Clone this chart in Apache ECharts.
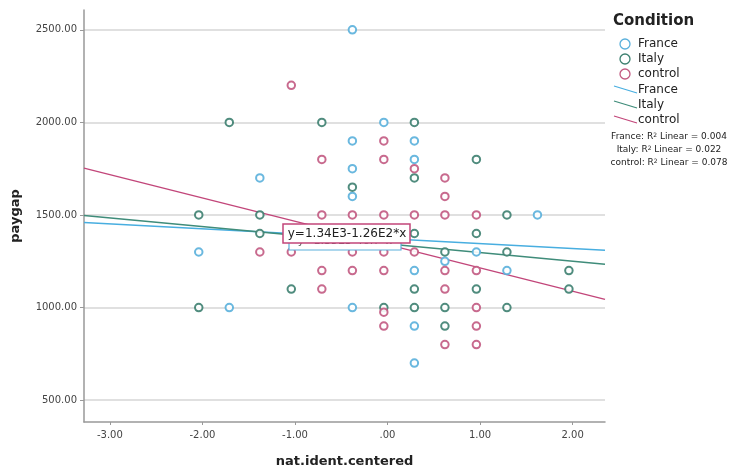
<!DOCTYPE html>
<html>
<head>
<meta charset="utf-8">
<script src="https://cdn.jsdelivr.net/npm/echarts@6/dist/echarts.min.js"></script>
<style>
  html, body { margin: 0; padding: 0; background: #fff; }
  #chart { width: 737px; height: 473px; }
</style>
</head>
<body>
<div id="chart"></div>
<script>
// ── Данные ──────────────────────────────────────────────────────────────────
var groups = ['France', 'Italy', 'control'];

var francePts = [
  [-2.04, 1300], [-1.71, 1000], [-1.38, 1700],
  [-0.38, 2500], [-0.38, 1900], [-0.38, 1750], [-0.38, 1600], [-0.38, 1000],
  [-0.04, 2000],
  [0.29, 1900], [0.29, 1800], [0.29, 1200], [0.29, 900], [0.29, 700],
  [0.62, 1250], [0.96, 1300], [1.29, 1200], [1.62, 1500]
];
var italyPts = [
  [-2.04, 1500], [-2.04, 1000], [-1.71, 2000],
  [-1.38, 1500], [-1.38, 1400], [-1.04, 1100], [-0.71, 2000],
  [-0.38, 1650], [-0.04, 1000],
  [0.29, 2000], [0.29, 1700], [0.29, 1400], [0.29, 1100], [0.29, 1000],
  [0.62, 1300], [0.62, 1000], [0.62, 900],
  [0.96, 1800], [0.96, 1400], [0.96, 1100],
  [1.29, 1500], [1.29, 1300], [1.29, 1000],
  [1.96, 1200], [1.96, 1100]
];
var controlPts = [
  [-1.38, 1300], [-1.04, 2200], [-1.04, 1300],
  [-0.71, 1800], [-0.71, 1500], [-0.71, 1200], [-0.71, 1100],
  [-0.38, 1500], [-0.38, 1300], [-0.38, 1200],
  [-0.04, 1900], [-0.04, 1800], [-0.04, 1500], [-0.04, 1300], [-0.04, 1200], [-0.04, 975], [-0.04, 900],
  [0.29, 1750], [0.29, 1500], [0.29, 1300],
  [0.62, 1700], [0.62, 1600], [0.62, 1500], [0.62, 1200], [0.62, 1100], [0.62, 800],
  [0.96, 1500], [0.96, 1200], [0.96, 1000], [0.96, 900], [0.96, 800]
];

// линейная регрессия по группам: y = a + b*x
var fitIntercept = [1372, 1344, 1340];
var fitSlope     = [-26.6, -46.7, -126];
var rSquared     = ['0.004', '0.022', '0.078'];

var xTicks = [-3, -2, -1, 0, 1, 2];
var yTicks = [500, 1000, 1500, 2000, 2500];
var xRange = [-3.28, 2.35];
var yRange = [382, 2607];

var pointColors = ['#5ab0dc', '#3d8070', '#c25a82'];
var lineColors  = ['#48aee0', '#3f8c7a', '#c2467a'];
var FONT = 'DejaVu Sans';

function fitLine(i) {
  return xRange.map(function (x) { return [x, fitIntercept[i] + fitSlope[i] * x]; });
}

var ptsByGroup = [francePts, italyPts, controlPts];

var series = [];
groups.forEach(function (g, i) {
  series.push({
    name: g,
    type: 'scatter',
    data: ptsByGroup[i],
    symbol: 'emptyCircle',
    symbolSize: 7.5,
    itemStyle: { color: pointColors[i], borderColor: pointColors[i], borderWidth: 1.5, opacity: 0.9 },
    z: 3
  });
});
groups.forEach(function (g, i) {
  series.push({
    name: g + ' fit',
    type: 'line',
    data: fitLine(i),
    symbol: 'none',
    lineStyle: { color: lineColors[i], width: 1.4 },
    z: 2,
    silent: true
  });
});

var chart = echarts.init(document.getElementById('chart'));
chart.setOption({
  animation: false,
  grid: { left: 84, right: 132, top: 10, bottom: 48 },
  xAxis: {
    type: 'value',
    min: xRange[0], max: xRange[1],
    name: 'nat.ident.centered',
    nameLocation: 'middle',
    nameGap: 33,
    nameTextStyle: { fontFamily: FONT, fontWeight: 'bold', fontSize: 13, color: '#222' },
    axisLine: { onZero: false, lineStyle: { color: '#999', width: 1.5 } },
    axisTick: { show: true, length: 3, customValues: xTicks, lineStyle: { color: '#999' } },
    axisLabel: {
      customValues: xTicks,
      fontFamily: FONT, fontSize: 10, color: '#444', margin: 8,
      formatter: function (v) { return v === 0 ? '.00' : v.toFixed(2); }
    },
    splitLine: { show: false }
  },
  yAxis: {
    type: 'value',
    min: yRange[0], max: yRange[1],
    name: 'paygap',
    nameLocation: 'middle',
    nameGap: 62,
    nameTextStyle: { fontFamily: FONT, fontWeight: 'bold', fontSize: 13, color: '#222' },
    axisLine: { show: true, onZero: false, lineStyle: { color: '#999', width: 1.5 } },
    axisTick: { show: true, length: 4, customValues: yTicks, lineStyle: { color: '#999' } },
    axisLabel: {
      customValues: yTicks,
      fontFamily: FONT, fontSize: 10, color: '#444', margin: 7,
      formatter: function (v) { return v.toFixed(2); }
    },
    splitLine: { show: true, lineStyle: { color: '#d6d6d6', width: 1.5 } }
  },
  series: series
});

// ── Подписи уравнения и легенда ─────────────────────────────────────────────
var labelAnchor = chart.convertToPixel({ gridIndex: 0 }, [-1.13, 1449]);
var lx = Math.round(labelAnchor[0]), ly = Math.round(labelAnchor[1]);

var graphics = [
  // второй (перекрытый) ярлык
  { type: 'rect', shape: { x: lx + 6, y: ly + 7, width: 112, height: 19 },
    style: { fill: '#fff', stroke: '#5ab0dc', lineWidth: 1.2 }, z: 10 },
  { type: 'text', x: lx + 62, y: ly + 17,
    style: { text: 'y=1.35E3-46.7*x', fontFamily: FONT, fontSize: 11, fill: '#555', align: 'center', verticalAlign: 'middle' }, z: 11 },
  // ярлык control
  { type: 'rect', shape: { x: lx, y: ly, width: 127, height: 19 },
    style: { fill: '#fff', stroke: '#c2467a', lineWidth: 1.5 }, z: 12 },
  { type: 'text', x: lx + 64, y: ly + 10,
    style: { text: 'y=1.34E3-1.26E2*x', fontFamily: FONT, fontSize: 12, fill: '#222', align: 'center', verticalAlign: 'middle' }, z: 13 },
  // легенда
  { type: 'text', x: 613, y: 21,
    style: { text: 'Condition', fontFamily: FONT, fontWeight: 'bold', fontSize: 15, fill: '#222', verticalAlign: 'middle' } }
];

groups.forEach(function (g, i) {
  var y = 44 + i * 15;
  graphics.push({ type: 'circle', shape: { cx: 625, cy: y, r: 5 },
    style: { fill: 'none', stroke: pointColors[i], lineWidth: 1.3 } });
  graphics.push({ type: 'text', x: 638, y: y,
    style: { text: g, fontFamily: FONT, fontSize: 12, fill: '#222', verticalAlign: 'middle' } });
});
groups.forEach(function (g, i) {
  var y = 90 + i * 15;
  graphics.push({ type: 'line', shape: { x1: 614, y1: y - 4, x2: 637, y2: y + 3 },
    style: { stroke: lineColors[i], lineWidth: 1.3 } });
  graphics.push({ type: 'text', x: 638, y: y,
    style: { text: g, fontFamily: FONT, fontSize: 12, fill: '#222', verticalAlign: 'middle' } });
});
groups.forEach(function (g, i) {
  graphics.push({ type: 'text', x: 669, y: 137 + i * 13,
    style: {
      text: '{a|' + g + ': R}{s|2}{a| Linear = ' + rSquared[i] + '}',
      align: 'center', verticalAlign: 'middle',
      rich: {
        a: { fontFamily: FONT, fontSize: 9, fill: '#222' },
        s: { fontFamily: FONT, fontSize: 6, fill: '#222', verticalAlign: 'top', padding: [0, 0, 4, 0] }
      }
    } });
});

chart.setOption({ graphic: graphics });
</script>
</body>
</html>
